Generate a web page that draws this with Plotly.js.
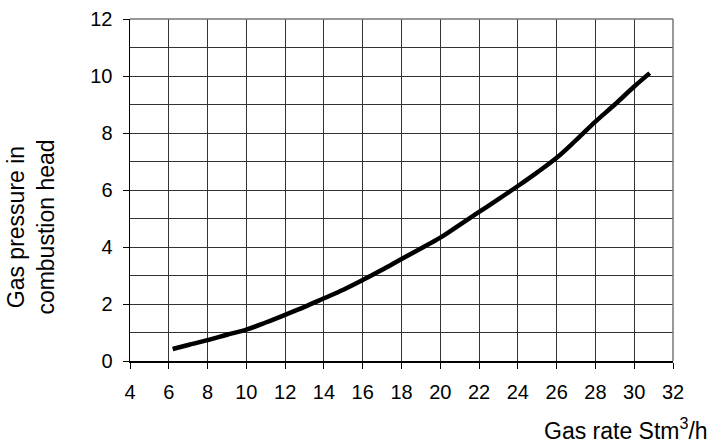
<!DOCTYPE html>
<html>
<head>
<meta charset="utf-8">
<script src="https://cdn.plot.ly/plotly-3.0.1.min.js"></script>
<style>html,body{margin:0;padding:0;background:#fff;}#chart{width:712px;height:447px;}</style>
</head>
<body>
<div id="chart"></div>
<script>
const gasRate = [6.2, 7, 8, 9, 10, 11, 12, 13, 14, 15, 16, 17, 18, 19, 20, 21, 22, 23, 24, 25, 26, 27, 28, 29, 30, 30.8];
const gasPressure = [0.42, 0.56, 0.73, 0.92, 1.1, 1.35, 1.62, 1.9, 2.2, 2.5, 2.84, 3.2, 3.58, 3.95, 4.33, 4.78, 5.23, 5.68, 6.14, 6.62, 7.13, 7.75, 8.4, 9.0, 9.63, 10.1];
const xTitle = 'Gas rate Stm<sup>3</sup>/h';
const yTitle = 'Gas pressure in<br>combustion head';

const fam = 'Liberation Sans, Arial, sans-serif';
const tickFont = {family: fam, size: 20, color: '#000'};
const titleFont = {family: fam, size: 23, color: '#000'};
const gridColor = '#333333';

Plotly.newPlot('chart', [{
  x: gasRate, y: gasPressure, type: 'scatter', mode: 'lines',
  line: {color: '#000', width: 4.5, shape: 'spline'}, hoverinfo: 'none'
}], {
  width: 712, height: 447,
  margin: {l: 130, r: 39, t: 19, b: 86},
  paper_bgcolor: '#fff', plot_bgcolor: '#fff',
  font: tickFont,
  showlegend: false,
  xaxis: {
    range: [4, 32], dtick: 2, tick0: 4, showgrid: true, gridcolor: gridColor, gridwidth: 1,
    zeroline: false, showline: true, linecolor: '#000', linewidth: 1.5, mirror: false,
    ticks: 'outside', ticklen: 6, tickcolor: '#000', tickfont: tickFont, ticklabelstandoff: 6, fixedrange: true
  },
  yaxis: {
    range: [0, 12], dtick: 2, tick0: 0, showgrid: true, gridcolor: gridColor, gridwidth: 1,
    minor: {dtick: 1, showgrid: true, gridcolor: gridColor, gridwidth: 1},
    zeroline: false, showline: true, linecolor: '#000', linewidth: 1.5,
    ticks: 'outside', ticklen: 6, tickcolor: '#000', tickfont: tickFont, ticklabelstandoff: 6, fixedrange: true
  },
  shapes: [
    {type: 'line', xref: 'paper', yref: 'paper', x0: 0, x1: 1, y0: 1, y1: 1, line: {color: '#777', width: 1.5}},
    {type: 'line', xref: 'paper', yref: 'paper', x0: 1, x1: 1, y0: 0, y1: 1, line: {color: '#777', width: 1.5}}
  ],
  annotations: [
    {text: xTitle, xref: 'paper', yref: 'paper', x: 1.068, y: -0.248, xanchor: 'right', yanchor: 'bottom',
     showarrow: false, font: titleFont},
    {text: yTitle, xref: 'paper', yref: 'paper', x: 0, xshift: -99, y: 0.39, xanchor: 'center', yanchor: 'middle',
     textangle: -90, showarrow: false, font: titleFont}
  ]
}, {displayModeBar: false, staticPlot: true});
</script>
</body>
</html>
